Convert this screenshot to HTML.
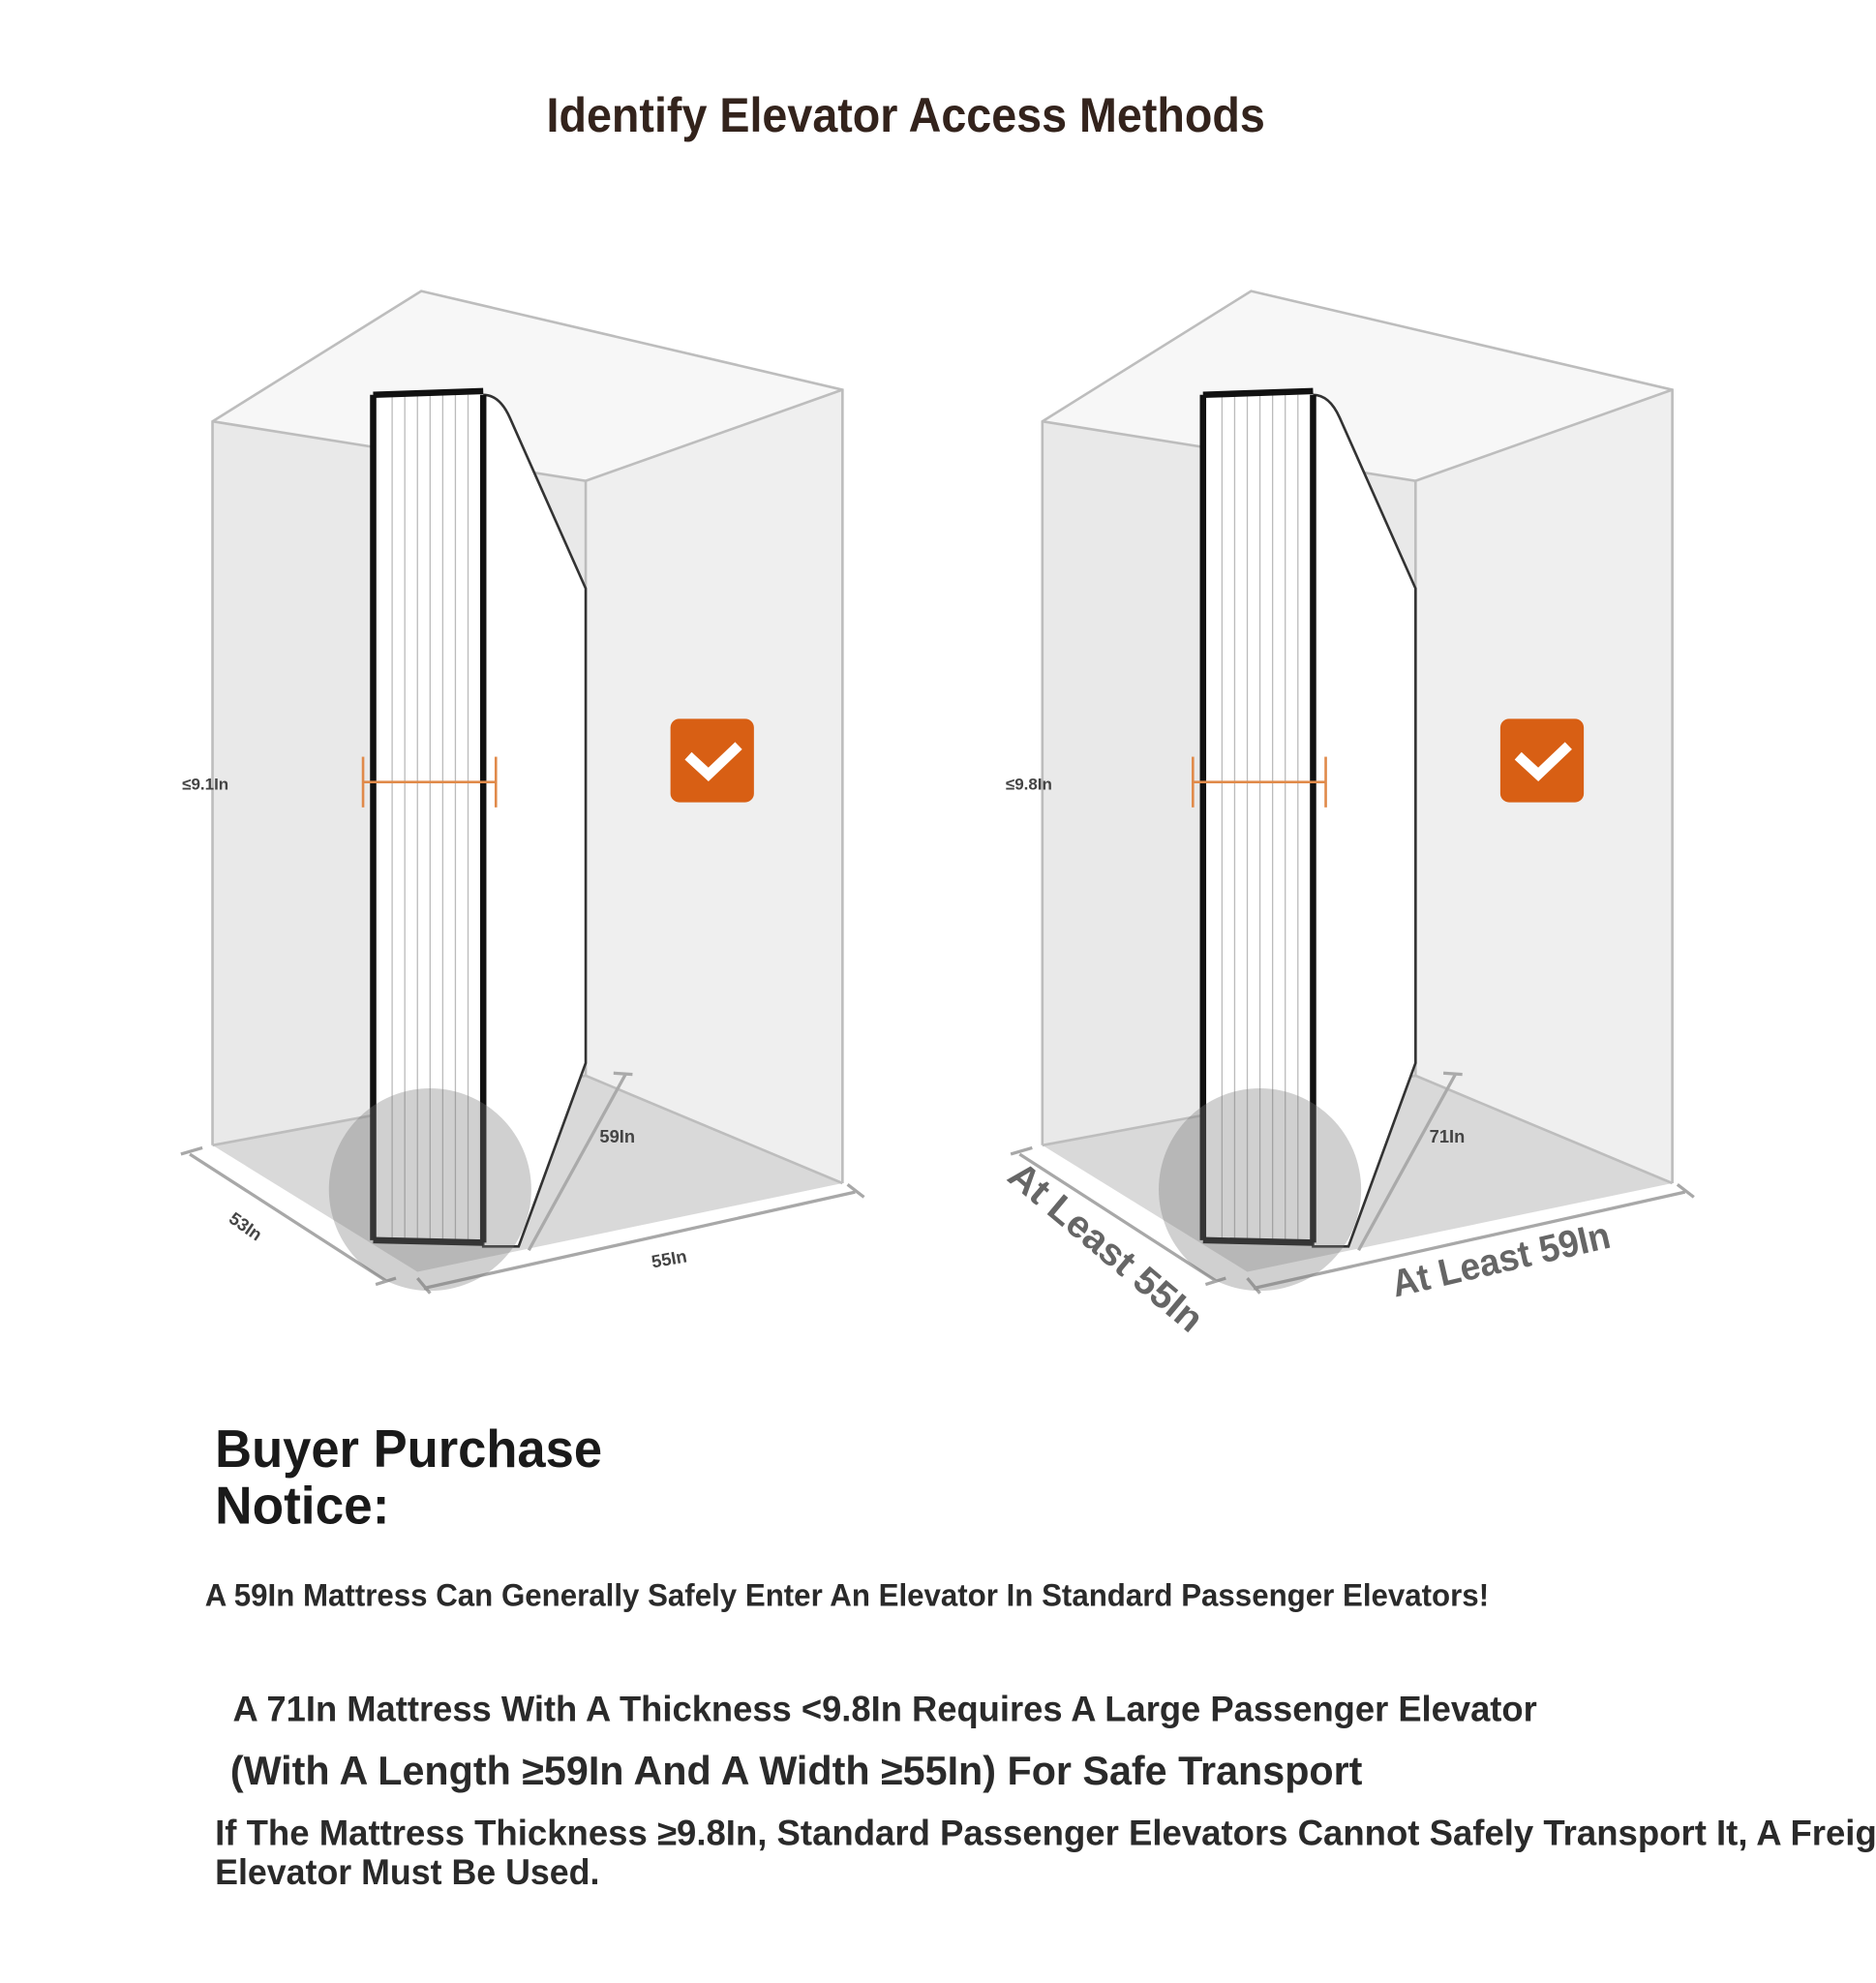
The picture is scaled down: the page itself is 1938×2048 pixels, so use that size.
<!DOCTYPE html>
<html><head><meta charset="utf-8"><style>
html,body{margin:0;padding:0;background:#fff;}
svg{display:block;}
text{font-family:"Liberation Sans Narrow","Liberation Sans",sans-serif;font-weight:bold;}
</style></head><body>
<svg width="1938" height="2048" viewBox="0 0 1483 1567" preserveAspectRatio="none" xmlns="http://www.w3.org/2000/svg">
<rect width="1483" height="1567" fill="#fff"/>
<text x="432" y="104" font-size="38" fill="#33231c" textLength="568" lengthAdjust="spacingAndGlyphs">Identify Elevator Access Methods</text>
<defs>
<g id="box">
  <!-- walls -->
  <polygon points="168,333 463,380 463,850 168,905" fill="#e9e9e9"/>
  <polygon points="463,380 666,308 666,935 463,850" fill="#efefef"/>
  <polygon points="168,333 333,230 666,308 463,380" fill="#f7f7f7"/>
  <polygon points="168,905 463,850 666,935 330,1005" fill="#d9d9d9"/>
  <g fill="none" stroke="#bdbdbd" stroke-width="2">
    <polyline points="168,905 168,333 333,230 666,308 666,935"/>
    <polyline points="168,333 463,380 666,308"/>
    <line x1="463" y1="380" x2="463" y2="850"/>
    <polyline points="168,905 463,850 666,935"/>
  </g>
  <!-- floor dimension lines -->
  <g stroke="#a8a8a8" stroke-width="2.5" fill="none">
    <line x1="150" y1="912" x2="305" y2="1012"/>
    <line x1="143" y1="912" x2="160" y2="907"/>
    <line x1="297" y1="1015" x2="313" y2="1010"/>
    <line x1="335" y1="1018" x2="676" y2="942"/>
    <line x1="330" y1="1010" x2="340" y2="1022"/>
    <line x1="670" y1="936" x2="683" y2="946"/>
  </g>
  <!-- mattress -->
  <path d="M382,312 Q395,312 403,330 L463,465 L463,840 L410,985 L382,985 Z" fill="#fff" stroke="#333" stroke-width="2"/>
  <rect x="295" y="310" width="87" height="672" fill="#fff"/>
  <g stroke="#bbb" stroke-width="1">
    <line x1="310" y1="312" x2="310" y2="980"/><line x1="320" y1="312" x2="320" y2="980"/>
    <line x1="330" y1="312" x2="330" y2="980"/><line x1="340" y1="312" x2="340" y2="980"/>
    <line x1="350" y1="312" x2="350" y2="980"/><line x1="360" y1="312" x2="360" y2="980"/>
    <line x1="370" y1="312" x2="370" y2="980"/>
  </g>
  <g stroke="#111" stroke-width="5" fill="none">
    <line x1="295" y1="312" x2="295" y2="980"/>
    <line x1="382" y1="312" x2="382" y2="982"/>
    <line x1="295" y1="312" x2="382" y2="309"/>
    <line x1="295" y1="980" x2="382" y2="982"/>
  </g>
  <!-- length dim -->
  <g stroke="#aaa" stroke-width="2.5">
    <line x1="495" y1="848" x2="418" y2="988"/>
    <line x1="485" y1="848" x2="500" y2="849"/>
  </g>
  <circle cx="340" cy="940" r="80" fill="#777" opacity="0.35"/>
  <!-- orange measure -->
  <g stroke="#e08a4a" stroke-width="2">
    <line x1="287" y1="618" x2="392" y2="618"/>
    <line x1="287" y1="598" x2="287" y2="638"/>
    <line x1="392" y1="598" x2="392" y2="638"/>
  </g>
  <rect x="530" y="568" width="66" height="66" rx="7" fill="#d85f14"/>
  <polyline points="547,600 560,612 581,592" fill="none" stroke="#fff" stroke-width="8" stroke-linecap="square"/>
</g>
</defs>
<use href="#box"/>
<use href="#box" transform="translate(656,0)"/>
<g font-family="Liberation Sans" fill="#444">
<text x="144" y="624" font-size="13">≤9.1In</text>
<text x="474" y="903" font-size="14">59In</text>
<text x="180" y="965" font-size="14" transform="rotate(35 180 965)">53In</text>
<text x="516" y="1002" font-size="14" transform="rotate(-10 516 1002)">55In</text>
<text x="795" y="624" font-size="13">≤9.8In</text>
<text x="1130" y="903" font-size="14" font-weight="normal">71In</text>
<text x="795" y="932" font-size="30" fill="#666" transform="rotate(40 795 932)" textLength="190" lengthAdjust="spacingAndGlyphs">At Least 55In</text>
<text x="1103" y="1025" font-size="30" fill="#666" transform="rotate(-13 1103 1025)" textLength="176" lengthAdjust="spacingAndGlyphs">At Least 59In</text>
</g>
<g fill="#1a1a1a">
<text x="170" y="1159" font-size="42" textLength="306" lengthAdjust="spacingAndGlyphs">Buyer Purchase</text>
<text x="170" y="1204" font-size="42" textLength="138" lengthAdjust="spacingAndGlyphs">Notice:</text>
<text x="162" y="1269" font-size="25" fill="#2a2a2a" textLength="1015" lengthAdjust="spacingAndGlyphs">A 59In Mattress Can Generally Safely Enter An Elevator In Standard Passenger Elevators!</text>
<text x="184" y="1360" font-size="28" fill="#2a2a2a" textLength="1031" lengthAdjust="spacingAndGlyphs">A 71In Mattress With A Thickness &lt;9.8In Requires A Large Passenger Elevator</text>
<text x="182" y="1410" font-size="32" fill="#2a2a2a" textLength="895" lengthAdjust="spacingAndGlyphs">(With A Length ≥59In And A Width ≥55In) For Safe Transport</text>
<text x="170" y="1458" font-size="28" fill="#2a2a2a" textLength="1340" lengthAdjust="spacingAndGlyphs">If The Mattress Thickness ≥9.8In, Standard Passenger Elevators Cannot Safely Transport It, A Freight</text>
<text x="170" y="1489" font-size="28" fill="#2a2a2a" textLength="304" lengthAdjust="spacingAndGlyphs">Elevator Must Be Used.</text>
</g>
</svg>
</body></html>
